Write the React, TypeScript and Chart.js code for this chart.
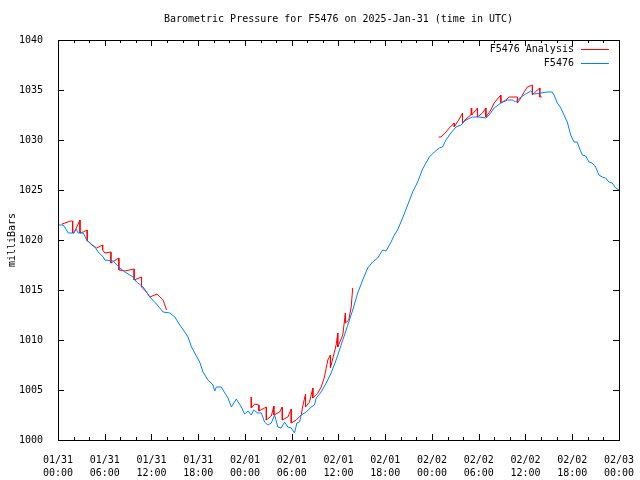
import React, { useEffect, useRef } from 'react';
import { Chart, registerables } from 'chart.js';

Chart.register(...registerables);

// Time axis: hours since 2025-01-31 00:00 UTC
const dayLabels = ['01/31', '02/01', '02/02', '02/03'];
const hourLabels = ['00:00', '06:00', '12:00', '18:00'];
const yTicksMin = 1000;
const yTicksMax = 1040;

// F5476 observations
const blueHours = [
  0, 0.68, 1.32, 1.96, 2.31, 2.6, 3.24, 3.68, 4.1, 4.74,
  5.16, 5.8, 6.02, 7.08, 7.94, 8.58, 9.65, 10.08, 10.93, 11.79,
  12.64, 13.49, 14.35, 14.99, 15.63, 16.27, 16.69, 17.13, 17.55, 18.19,
  18.61, 19.25, 19.9, 20.11, 20.33, 20.97, 21.18, 21.82, 22.25, 22.89,
  23.53, 23.96, 24.38, 24.81, 25.11, 25.66, 26.1, 26.52, 26.94, 27.38,
  27.8, 28.22, 28.66, 29.08, 29.5, 29.94, 30.36, 30.66, 31.0, 31.22,
  31.86, 32.5, 32.92, 33.14, 33.78, 34.42, 35.06, 35.7, 36.13, 36.98,
  37.83, 38.47, 39.11, 39.75, 40.39, 41.03, 41.67, 42.11, 42.75, 43.17,
  43.59, 44.23, 44.88, 45.52, 46.16, 46.8, 47.66, 48.3, 48.94, 49.36,
  49.79, 50.44, 51.08, 51.72, 52.36, 53.2, 54.06, 54.92, 55.34, 55.98,
  56.84, 57.69, 58.33, 58.76, 59.4, 60.04, 60.68, 61.11, 61.97, 62.81,
  63.45, 63.67, 64.09, 64.53, 64.95, 65.37, 65.81, 66.23, 66.65, 66.87,
  67.29, 67.73, 68.15, 68.57, 69.01, 69.43, 69.86, 70.28, 70.71, 71.13,
  71.57, 72,
];
const bluePressure = [
  1021.5, 1021.5, 1020.7, 1020.7, 1021.1, 1020.7, 1020.7, 1020.0, 1019.7, 1019.3,
  1018.8, 1018.3, 1018.0, 1017.9, 1017.2, 1016.8, 1016.3, 1015.8, 1015.3, 1014.3,
  1013.6, 1012.8, 1012.7, 1012.3, 1011.5, 1010.8, 1010.3, 1009.3, 1008.7, 1007.8,
  1006.8, 1006.0, 1005.5, 1004.9, 1005.3, 1005.3, 1005.0, 1004.2, 1003.3, 1004.1,
  1003.3, 1002.6, 1002.9, 1002.5, 1003.0, 1002.7, 1002.7, 1001.8, 1001.5, 1001.7,
  1002.5, 1001.3, 1001.2, 1001.8, 1001.3, 1001.2, 1000.7, 1001.7, 1001.8, 1002.5,
  1002.8, 1003.3, 1003.5, 1004.2, 1004.8, 1005.7, 1006.7, 1008.0, 1009.0, 1011.0,
  1013.0, 1014.7, 1016.0, 1017.2, 1017.8, 1018.2, 1019.0, 1018.9, 1019.8, 1020.5,
  1021.0, 1022.2, 1023.5, 1024.8, 1025.8, 1027.1, 1028.3, 1028.8, 1029.2, 1029.3,
  1030.0, 1030.7, 1031.3, 1031.5, 1032.0, 1032.3, 1032.3, 1032.2, 1032.5, 1033.2,
  1033.7, 1034.0, 1034.0, 1033.8, 1034.3, 1034.6, 1034.9, 1034.6, 1034.7, 1034.8,
  1034.8, 1034.5, 1033.7, 1033.2, 1032.5, 1031.8, 1030.5, 1029.8, 1029.8, 1029.3,
  1028.5, 1028.4, 1027.8, 1027.7, 1027.3, 1026.5, 1026.3, 1026.2, 1025.8, 1025.7,
  1025.2, 1025.0,
];

// F5476 Analysis (null = gap between analysis runs)
const redHours = [
  0.5, 0.9, 1.63, 1.88, 1.88, 2.05, 2.82, 2.82, 3.24, 3.75,
  3.75, 4.01, 4.32, 4.96, 5.73, 5.73, 6.02, 6.79, 6.79, 7.81,
  7.81, 8.58, 9.77, 9.77, 10.72, 10.72, 11.36, 11.79, 12.72, 13.49,
  13.93, 19,
  24.81, 24.81, 25.24, 25.79, 25.79, 26.52, 26.74, 26.74, 27.38, 27.71,
  27.71, 28.44, 28.79, 28.79, 29.5, 29.94, 29.94, 30.58, 31.22, 31.42,
  31.77, 31.77, 32.28, 32.71, 32.71, 33.35, 33.78, 34.2, 34.63, 34.97,
  34.97, 35.7, 35.91, 35.91, 36.55, 36.89, 36.89, 37.32, 37.63, 37.83,
  43,
  48.85, 49.15, 49.79, 50.22, 50.86, 50.86, 51.5, 51.92, 51.92, 52.36,
  53.0, 53.05, 53.1, 53.84, 53.84, 54.48, 54.92, 54.92, 55.56, 55.98,
  56.62, 56.84, 56.84, 57.48, 57.91, 58.97, 58.97, 59.4, 59.82, 60.25,
  60.89, 60.89, 61.53, 61.84, 61.84, 62.09,
];
const redPressure = [
  1021.6, 1021.7, 1021.9, 1021.9, 1020.7, 1020.7, 1022.0, 1020.7, 1020.8, 1021.0,
  1019.9, 1019.8, 1019.5, 1019.2, 1019.5, 1019.0, 1018.7, 1018.8, 1017.7, 1018.2,
  1017.0, 1016.9, 1017.1, 1016.0, 1016.3, 1015.3, 1014.8, 1014.3, 1014.6, 1014.0,
  1013.0, null,
  1004.3, 1003.2, 1003.6, 1003.5, 1002.9, 1003.2, 1003.3, 1002.0, 1002.4, 1003.4,
  1002.5, 1002.8, 1003.3, 1002.0, 1002.3, 1003.1, 1001.7, 1002.0, 1002.5, 1003.4,
  1004.6, 1003.3, 1003.8, 1005.2, 1004.2, 1004.7, 1005.3, 1006.3, 1008.0, 1008.5,
  1007.2, 1009.5, 1010.7, 1009.3, 1010.5, 1012.7, 1011.7, 1012.0, 1013.3, 1015.2,
  null,
  1030.3, 1030.3, 1030.8, 1031.2, 1031.7, 1031.3, 1032.1, 1032.7, 1031.7, 1032.1,
  1032.5, 1033.2, 1032.5, 1033.2, 1032.3, 1032.7, 1033.2, 1032.3, 1033.0, 1033.7,
  1034.3, 1034.5, 1033.7, 1034.0, 1034.3, 1034.3, 1033.7, 1034.2, 1034.8, 1035.3,
  1035.5, 1034.5, 1035.0, 1035.2, 1034.3, 1034.3,
];

const seriesNames = ['F5476 Analysis', 'F5476'];
const seriesColors = ['#ff0000', '#0080ff'];

const FONT = '"DejaVu Sans Mono", monospace';

const framePlugin = {
  id: 'gnuFrame',
  afterDatasetsDraw(chart: any) {
    const { ctx, chartArea } = chart;
    const { left, right, top, bottom } = chartArea;
    const xs = chart.scales.x;
    const ys = chart.scales.y;
    ctx.save();
    ctx.strokeStyle = '#000';
    ctx.lineWidth = 1;
    ctx.beginPath();
    xs.ticks.forEach((t: any) => {
      const px = Math.round(xs.getPixelForValue(t.value)) + 0.5;
      const len = t.value % 6 === 0 ? 6 : 3;
      ctx.moveTo(px, bottom);
      ctx.lineTo(px, bottom - len);
      ctx.moveTo(px, top);
      ctx.lineTo(px, top + len);
    });
    ys.ticks.forEach((t: any) => {
      const py = Math.round(ys.getPixelForValue(t.value)) + 0.5;
      ctx.moveTo(left, py);
      ctx.lineTo(left + 6, py);
      ctx.moveTo(right, py);
      ctx.lineTo(right - 6, py);
    });
    ctx.stroke();
    ctx.strokeRect(Math.round(left) + 0.5, Math.round(top) + 0.5, Math.round(right - left), Math.round(bottom - top));

    // key (top right, gnuplot style)
    ctx.font = `10px ${FONT}`;
    ctx.textAlign = 'right';
    ctx.textBaseline = 'middle';
    const rows = [49, 63];
    seriesNames.forEach((name, i) => {
      ctx.fillStyle = '#000';
      ctx.fillText(name, right - 45, rows[i]);
      ctx.fillStyle = seriesColors[i];
      ctx.fillRect(right - 38, rows[i], 28, 1);
    });
    ctx.restore();
  },
};

export default function App() {
  const ref = useRef<HTMLCanvasElement>(null);

  useEffect(() => {
    if (!ref.current) return;
    const blueData = blueHours.map((h, i) => ({ x: h, y: bluePressure[i] }));
    const redData = redHours.map((h, i) => ({ x: h, y: redPressure[i] }));
    const chart = new Chart(ref.current, {
      type: 'line',
      data: {
        datasets: [
          {
            label: seriesNames[0],
            data: redData as any,
            borderColor: seriesColors[0],
            backgroundColor: seriesColors[0],
            borderWidth: 1,
            pointRadius: 0,
            tension: 0,
            fill: false,
            spanGaps: false,
            order: 1,
          },
          {
            label: seriesNames[1],
            data: blueData as any,
            borderColor: seriesColors[1],
            backgroundColor: seriesColors[1],
            borderWidth: 1,
            pointRadius: 0,
            tension: 0,
            fill: false,
            order: 0,
          },
        ],
      },
      options: {
        responsive: false,
        animation: false,
        devicePixelRatio: 1,
        layout: { padding: { left: 0, right: 20, top: 0, bottom: 0 } },
        plugins: {
          legend: { display: false },
          tooltip: { enabled: false },
          title: {
            display: true,
            text: 'Barometric Pressure for F5476 on 2025-Jan-31 (time in UTC)',
            color: '#000',
            fullSize: false,
            font: { family: FONT, size: 10, weight: 'normal', lineHeight: 1.2 },
            padding: { top: 13, bottom: 15 },
          },
        },
        scales: {
          x: {
            type: 'linear',
            min: 0,
            max: 72,
            grid: { display: false },
            border: { display: false },
            ticks: {
              stepSize: 2,
              autoSkip: false,
              maxRotation: 0,
              minRotation: 0,
              padding: 6,
              color: '#000',
              font: { family: FONT, size: 10, lineHeight: 1.3 },
              callback: (v: any) => {
                const n = Number(v);
                if (n % 6 !== 0) return '';
                return [dayLabels[Math.floor(n / 24)], hourLabels[(n % 24) / 6]];
              },
            },
            afterFit: (s: any) => {
              s.height = 40;
            },
          },
          y: {
            min: yTicksMin,
            max: yTicksMax,
            grid: { display: false },
            border: { display: false },
            ticks: {
              stepSize: 5,
              padding: 7,
              color: '#000',
              font: { family: FONT, size: 10 },
              callback: (v: any) => String(v),
            },
            title: {
              display: true,
              text: 'milliBars',
              color: '#000',
              font: { family: FONT, size: 10, lineHeight: 1.2 },
              padding: { top: 6, bottom: 0 },
            },
            afterFit: (s: any) => {
              s.width = 58;
            },
          },
        },
      },
      plugins: [framePlugin],
    });
    return () => chart.destroy();
  }, []);

  return (
    <div style={{ position: 'fixed', left: 0, top: 0, width: 640, height: 480, background: '#fff' }}>
      <canvas ref={ref} width={640} height={480} style={{ display: 'block' }} />
    </div>
  );
}
